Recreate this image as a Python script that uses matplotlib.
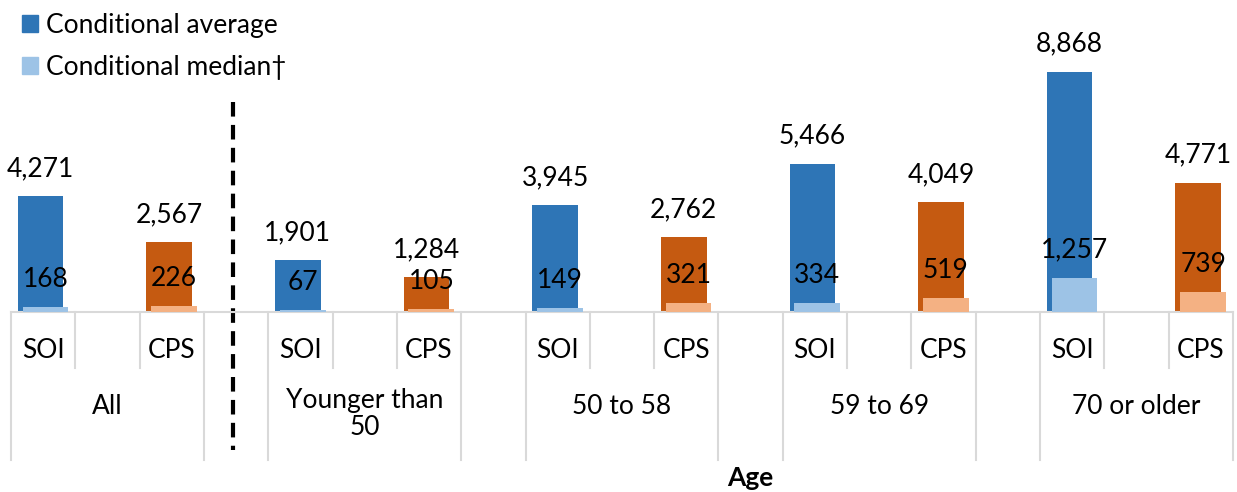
import matplotlib.pyplot as plt
import matplotlib.transforms as mtransforms
from matplotlib.patches import Patch

plt.rcParams['font.family'] = ['Lato', 'DejaVu Sans']

groups = ['All', 'Younger than\n50', '50 to 58', '59 to 69', '70 or older']
sources = ['SOI', 'CPS']
avg_soi = [4271, 1901, 3945, 5466, 8868]
avg_cps = [2567, 1284, 2762, 4049, 4771]
med_soi = [168, 67, 149, 334, 1257]
med_cps = [226, 105, 321, 519, 739]

blue, orange = '#2E75B6', '#C55A11'
lblue, lorange = '#9DC3E6', '#F4B183'
grid_c = '#D9D9D9'
fs = 19

W, H = 1237, 492
fig = plt.figure(figsize=(W / 100, H / 100), dpi=100)
base_px = 312
top_px = 10
ax = fig.add_axes([11 / W, (H - base_px) / H, 1222 / W, (base_px - top_px) / H])

# slot layout: SOI, blank, CPS, then a blank gap slot between groups
soi_x = [4 * i for i in range(len(groups))]
cps_x = [4 * i + 2 for i in range(len(groups))]

scale = (base_px - 71.7) / 8868  # px per unit
ax.set_xlim(-0.5, 4 * len(groups) - 1.5)
ax.set_ylim(0, (base_px - top_px) / scale)

bw = 0.71
ax.bar([x - 0.04 for x in soi_x], avg_soi, bw, color=blue, zorder=2)
ax.bar([x - 0.04 for x in cps_x], avg_cps, bw, color=orange, zorder=2)
ax.bar([x + 0.035 for x in soi_x], med_soi, bw, color=lblue, zorder=3)
ax.bar([x + 0.035 for x in cps_x], med_cps, bw, color=lorange, zorder=3)

for xs, vals, dx in [(soi_x, avg_soi, -0.04), (cps_x, avg_cps, -0.04),
                     (soi_x, med_soi, 0.035), (cps_x, med_cps, 0.035)]:
    for x, v in zip(xs, vals):
        ax.annotate(f'{v:,}', (x + dx, v), xytext=(0, 20), textcoords='offset points',
                    ha='center', va='center', fontsize=fs, zorder=4)

for s in ['top', 'left', 'right']:
    ax.spines[s].set_visible(False)
ax.spines['bottom'].set_color(grid_c)
ax.spines['bottom'].set_linewidth(1.5)
ax.set_xticks([])
ax.set_yticks([])

# category axis drawn by hand (multi-level)
trans = mtransforms.blended_transform_factory(ax.transData, ax.transAxes)


def py(p):
    return (base_px - p) / (base_px - top_px)


n_slots = 4 * len(groups) - 1
for k in range(n_slots + 1):
    b = k - 0.5
    inner = (k % 4) in (1, 2)
    y2 = py(368) if inner else py(460)
    ax.plot([b, b], [0, y2], color=grid_c, lw=1.5, transform=trans, clip_on=False)

for g, x0 in zip(groups, soi_x):
    ax.text(x0, py(350), 'SOI', ha='center', va='center', fontsize=fs, transform=trans)
    ax.text(x0 + 2, py(350), 'CPS', ha='center', va='center', fontsize=fs, transform=trans)
    if '\n' in g:
        ax.text(x0 + 1, py(388), g, ha='center', va='top', fontsize=fs,
                transform=trans, linespacing=1.1)
    else:
        ax.text(x0 + 1, py(406), g, ha='center', va='center', fontsize=fs,
                transform=trans)

ax.plot([2.95, 2.95], [py(102), py(450)], color='black', lw=3, ls=(0, (3.5, 2)),
        transform=trans, clip_on=False)

fig.text(750 / W, 1 - 478 / H, 'Age', ha='center', va='center', fontsize=fs,
         fontweight='bold')

handles = [Patch(color=blue, label='Conditional average'),
           Patch(color=lblue, label='Conditional median\u2020')]
fig.legend(handles=handles, loc='upper left', bbox_to_anchor=(22 / W, 1 - 13 / H),
           frameon=False, fontsize=fs, handlelength=0.6, handleheight=0.6,
           handletextpad=0.3, labelspacing=0.65, borderpad=0, borderaxespad=0)

fig.savefig('out.png', dpi=100)
